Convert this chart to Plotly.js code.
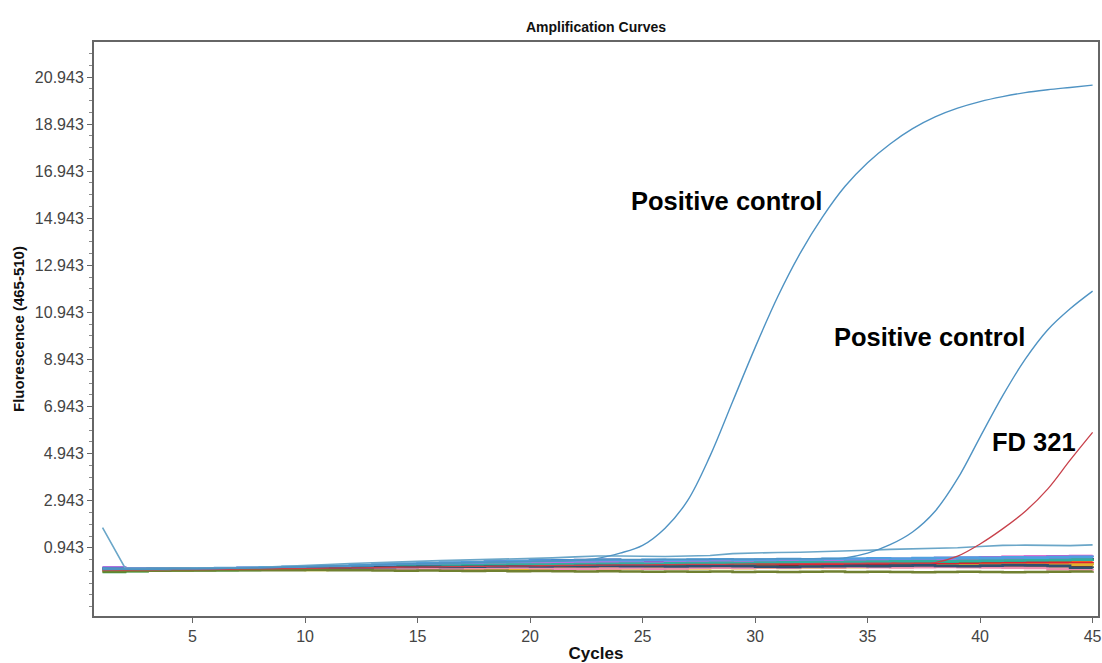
<!DOCTYPE html>
<html>
<head>
<meta charset="utf-8">
<script src="https://cdn.plot.ly/plotly-3.0.1.min.js"></script>
<style>html,body{margin:0;padding:0;background:#fff;}#chart{width:1102px;height:663px;}</style>
</head>
<body>
<div id="chart"></div>
<script>
const cycles = [1,2,3,4,5,6,7,8,9,10,11,12,13,14,15,16,17,18,19,20,21,22,23,24,25,26,27,28,29,30,31,32,33,34,35,36,37,38,39,40,41,42,43,44,45];
const yTickValues = [0.943,2.943,4.943,6.943,8.943,10.943,12.943,14.943,16.943,18.943,20.943];
const xTickValues = [5,10,15,20,25,30,35,40,45];

// Amplifying samples
const positiveControl1 = [0.10,0.05,0.05,0.06,0.06,0.08,0.08,0.10,0.12,0.14,0.16,0.18,0.22,0.24,0.26,0.28,0.30,0.32,0.34,0.36,0.38,0.42,0.50,0.72,1.05,1.78,2.95,4.85,7.15,9.45,11.60,13.45,15.00,16.30,17.30,18.10,18.75,19.25,19.62,19.90,20.11,20.28,20.40,20.50,20.60];
const positiveControl2 = [0.02,0.03,0.03,0.04,0.05,0.06,0.08,0.10,0.12,0.15,0.18,0.20,0.22,0.25,0.28,0.30,0.32,0.34,0.36,0.38,0.40,0.42,0.44,0.45,0.45,0.46,0.46,0.46,0.47,0.47,0.48,0.48,0.49,0.52,0.72,1.08,1.62,2.50,3.88,5.65,7.40,8.95,10.20,11.10,11.85];
const fd321 = [0.00,0.00,0.01,0.02,0.02,0.03,0.04,0.05,0.06,0.07,0.08,0.09,0.10,0.12,0.13,0.14,0.15,0.16,0.17,0.18,0.19,0.20,0.21,0.22,0.22,0.23,0.24,0.24,0.25,0.26,0.26,0.27,0.28,0.28,0.29,0.30,0.30,0.32,0.59,1.11,1.75,2.49,3.44,4.67,5.85];
const driftSample = [1.80,0.09,0.08,0.08,0.09,0.10,0.10,0.12,0.15,0.20,0.24,0.28,0.32,0.35,0.37,0.40,0.42,0.44,0.46,0.48,0.52,0.56,0.60,0.60,0.58,0.58,0.60,0.62,0.70,0.74,0.75,0.76,0.78,0.80,0.84,0.88,0.90,0.92,0.95,1.00,1.05,1.06,1.05,1.04,1.07];

// Negative / baseline samples
const sampleA = [0.03,0.04,0.03,0.02,0.03,0.04,0.03,0.02,0.05,0.06,0.05,0.07,0.08,0.07,0.09,0.10,0.09,0.11,0.12,0.11,0.13,0.15,0.14,0.16,0.18,0.17,0.19,0.21,0.20,0.22,0.24,0.23,0.25,0.27,0.26,0.28,0.30,0.32,0.31,0.33,0.34,0.33,0.35,0.36,0.36];
const sampleB = [0.00,0.02,0.03,0.05,0.04,0.03,0.02,0.03,0.02,0.01,0.02,0.03,0.02,0.04,0.03,0.02,0.04,0.05,0.03,0.04,0.05,0.06,0.05,0.07,0.06,0.08,0.07,0.09,0.08,0.10,0.09,0.11,0.10,0.12,0.14,0.13,0.15,0.14,0.16,0.15,0.17,0.16,0.18,0.17,0.19];
const sampleC = [0.08,0.05,0.04,0.05,0.06,0.08,0.09,0.10,0.12,0.14,0.16,0.19,0.22,0.24,0.27,0.30,0.33,0.36,0.38,0.40,0.42,0.43,0.44,0.42,0.40,0.38,0.36,0.35,0.34,0.36,0.38,0.37,0.36,0.38,0.40,0.41,0.42,0.44,0.45,0.46,0.48,0.47,0.49,0.50,0.51];
const sampleD = [0.10,0.06,0.05,0.05,0.06,0.07,0.08,0.11,0.10,0.12,0.13,0.15,0.17,0.18,0.20,0.22,0.24,0.26,0.27,0.29,0.30,0.32,0.31,0.30,0.29,0.30,0.31,0.33,0.34,0.35,0.33,0.34,0.36,0.37,0.38,0.37,0.39,0.40,0.42,0.41,0.43,0.44,0.45,0.46,0.47];
const sampleE = [-0.02,0.00,0.01,0.02,0.03,0.05,0.06,0.07,0.09,0.10,0.11,0.10,0.09,0.08,0.10,0.11,0.12,0.13,0.12,0.14,0.15,0.14,0.16,0.17,0.16,0.18,0.17,0.19,0.18,0.20,0.19,0.21,0.20,0.22,0.21,0.23,0.24,0.23,0.25,0.24,0.26,0.27,0.26,0.28,0.29];
const sampleF = [-0.08,-0.05,-0.03,-0.02,-0.01,0.00,0.01,0.03,0.05,0.07,0.08,0.09,0.10,0.09,0.11,0.12,0.13,0.14,0.15,0.17,0.18,0.20,0.22,0.21,0.23,0.22,0.24,0.26,0.25,0.27,0.28,0.27,0.29,0.31,0.30,0.32,0.33,0.34,0.35,0.36,0.38,0.40,0.42,0.44,0.48];
const sampleG = [0.01,0.02,0.02,0.03,0.03,0.04,0.05,0.05,0.06,0.07,0.06,0.08,0.09,0.10,0.12,0.14,0.15,0.17,0.19,0.21,0.20,0.22,0.24,0.26,0.28,0.30,0.32,0.34,0.36,0.38,0.37,0.39,0.41,0.43,0.45,0.47,0.49,0.51,0.52,0.54,0.56,0.58,0.59,0.60,0.61];
const sampleH = [0.00,0.01,0.01,0.02,0.02,0.03,0.03,0.04,0.05,0.05,0.06,0.07,0.08,0.08,0.09,0.10,0.11,0.12,0.13,0.14,0.12,0.10,0.11,0.12,0.14,0.13,0.15,0.17,0.16,0.18,0.20,0.22,0.21,0.23,0.25,0.24,0.26,0.25,0.27,0.28,0.30,0.32,0.31,0.30,0.29];
const sampleI = [0.04,0.03,0.04,0.04,0.05,0.04,0.05,0.06,0.06,0.07,0.08,0.07,0.08,0.09,0.10,0.09,0.10,0.11,0.10,0.12,0.13,0.12,0.11,0.10,0.11,0.12,0.13,0.12,0.14,0.15,0.16,0.15,0.14,0.16,0.17,0.18,0.17,0.16,0.18,0.19,0.18,0.17,0.16,0.15,0.15];
const sampleJ = [0.12,0.08,0.06,0.05,0.06,0.08,0.09,0.10,0.12,0.14,0.16,0.18,0.20,0.23,0.26,0.28,0.31,0.34,0.35,0.37,0.36,0.35,0.34,0.33,0.32,0.34,0.36,0.38,0.40,0.41,0.42,0.43,0.44,0.45,0.44,0.46,0.47,0.48,0.50,0.52,0.54,0.55,0.56,0.57,0.57];
const sampleK = [0.02,0.03,0.03,0.04,0.04,0.05,0.06,0.07,0.08,0.09,0.10,0.12,0.14,0.16,0.18,0.19,0.20,0.22,0.23,0.24,0.25,0.26,0.27,0.28,0.27,0.29,0.30,0.31,0.30,0.32,0.33,0.34,0.33,0.35,0.36,0.37,0.38,0.37,0.39,0.40,0.41,0.42,0.43,0.44,0.45];
const sampleL = [-0.03,-0.01,0.00,0.01,0.02,0.03,0.02,0.03,0.04,0.03,0.04,0.05,0.04,0.05,0.06,0.05,0.06,0.07,0.06,0.07,0.08,0.07,0.08,0.09,0.10,0.09,0.11,0.12,0.11,0.13,0.12,0.14,0.15,0.14,0.16,0.17,0.18,0.19,0.20,0.21,0.22,0.21,0.22,0.23,0.22];
const sampleM = [0.01,0.00,0.02,0.03,0.02,0.03,0.04,0.05,0.04,0.06,0.07,0.06,0.05,0.04,0.05,0.06,0.08,0.09,0.10,0.08,0.06,0.05,0.07,0.08,0.06,0.07,0.09,0.10,0.09,0.11,0.10,0.12,0.11,0.13,0.12,0.11,0.12,0.13,0.12,0.11,0.10,0.09,0.04,0.03,0.05];
const sampleN = [0.05,0.04,0.05,0.06,0.07,0.06,0.08,0.09,0.10,0.09,0.10,0.11,0.12,0.13,0.14,0.13,0.14,0.15,0.16,0.15,0.16,0.17,0.18,0.17,0.16,0.15,0.17,0.18,0.16,0.14,0.13,0.15,0.16,0.18,0.17,0.19,0.20,0.18,0.17,0.19,0.21,0.20,0.18,0.10,0.08];
const sampleO = [-0.06,-0.04,-0.03,-0.02,-0.02,-0.01,-0.01,0.00,0.00,0.01,0.00,-0.01,-0.02,-0.03,-0.02,-0.03,-0.04,-0.03,-0.05,-0.04,-0.05,-0.06,-0.05,-0.06,-0.07,-0.06,-0.07,-0.06,-0.08,-0.07,-0.08,-0.07,-0.06,-0.08,-0.07,-0.08,-0.09,-0.08,-0.07,-0.08,-0.09,-0.08,-0.07,-0.06,-0.05];
const sampleP = [0.06,0.05,0.05,0.06,0.07,0.09,0.10,0.12,0.14,0.16,0.18,0.21,0.24,0.28,0.30,0.32,0.34,0.36,0.38,0.40,0.41,0.42,0.43,0.42,0.44,0.43,0.45,0.46,0.44,0.45,0.47,0.46,0.48,0.49,0.50,0.49,0.51,0.52,0.53,0.52,0.54,0.53,0.55,0.56,0.55];

const baselineSamples = [sampleA, sampleB, sampleC, sampleD, sampleE, sampleF, sampleG, sampleH, sampleI, sampleJ, sampleK, sampleL, sampleM, sampleN, sampleO, sampleP];
const baselineColors = ['#f07020','#f0e040','#2040a0','#9090c0','#90d050','#20a040','#e040c0','#e02030','#803020','#b070e0','#30b0a0','#e0b030','#f090b0','#305070','#708030','#50a0e0'];

const FONT = '"Liberation Sans", Arial, Helvetica, sans-serif';

const traces = [];
baselineSamples.forEach((s, i) => {
  traces.push({x: cycles, y: s, type: 'scatter', mode: 'lines', line: {color: baselineColors[i], width: 2.6, shape: 'hv'}, hoverinfo: 'skip'});
});
traces.push({x: cycles, y: driftSample, type: 'scatter', mode: 'lines', line: {color: '#6aa6c8', width: 1.6}});
traces.push({x: cycles, y: fd321, type: 'scatter', mode: 'lines', line: {color: '#c8414b', width: 1.3, shape: 'spline', smoothing: 1}});
traces.push({x: cycles, y: positiveControl2, type: 'scatter', mode: 'lines', line: {color: '#4f93c3', width: 1.4, shape: 'spline', smoothing: 1}});
traces.push({x: cycles, y: positiveControl1, type: 'scatter', mode: 'lines', line: {color: '#4f93c3', width: 1.4, shape: 'spline', smoothing: 1}});

const layout = {
  width: 1102, height: 663,
  margin: {l: 94, r: 4, t: 42, b: 47},
  paper_bgcolor: '#ffffff', plot_bgcolor: '#ffffff',
  showlegend: false,
  font: {family: FONT, color: '#333'},
  title: {text: '<b>Amplification Curves</b>', font: {size: 14, family: FONT, color: '#111'}, x: 0.5, xref: 'paper', y: 1 - 27/663, yref: 'container', yanchor: 'middle'},
  xaxis: {
    range: [0.62, 45.24], tickvals: xTickValues,
    ticks: 'outside', ticklen: 5, tickcolor: '#666', tickfont: {size: 16, color: '#444'},
    showgrid: false, zeroline: false, showline: true, linecolor: '#666', linewidth: 2, mirror: true,
    title: {text: '<b>Cycles</b>', font: {size: 17, color: '#111'}, standoff: 3}
  },
  yaxis: {
    range: [-1.95, 22.43], tickvals: yTickValues, tickformat: '.3f',
    ticks: 'outside', ticklen: 5, tickcolor: '#666', tickfont: {size: 16, color: '#444'},
    minor: {dtick: 0.5, tick0: 0.943, ticks: 'outside', ticklen: 3, tickcolor: '#888', showgrid: false},
    showgrid: false, zeroline: false, showline: true, linecolor: '#666', linewidth: 2, mirror: true,
    title: {text: '<b>Fluorescence (465-510)</b>', font: {size: 15, color: '#111'}, standoff: 7}
  },
  annotations: [
    {text: '<b>Positive control</b>', x: 28.74, y: 15.67, xref: 'x', yref: 'y', showarrow: false, font: {size: 25.5, color: '#000', family: FONT}},
    {text: '<b>Positive control</b>', x: 37.73, y: 9.90, xref: 'x', yref: 'y', showarrow: false, font: {size: 25.5, color: '#000', family: FONT}},
    {text: '<b>FD 321</b>', x: 42.41, y: 5.42, xref: 'x', yref: 'y', showarrow: false, font: {size: 25.5, color: '#000', family: FONT}}
  ]
};

Plotly.newPlot('chart', traces, layout, {displayModeBar: false, staticPlot: true});
</script>
</body>
</html>
